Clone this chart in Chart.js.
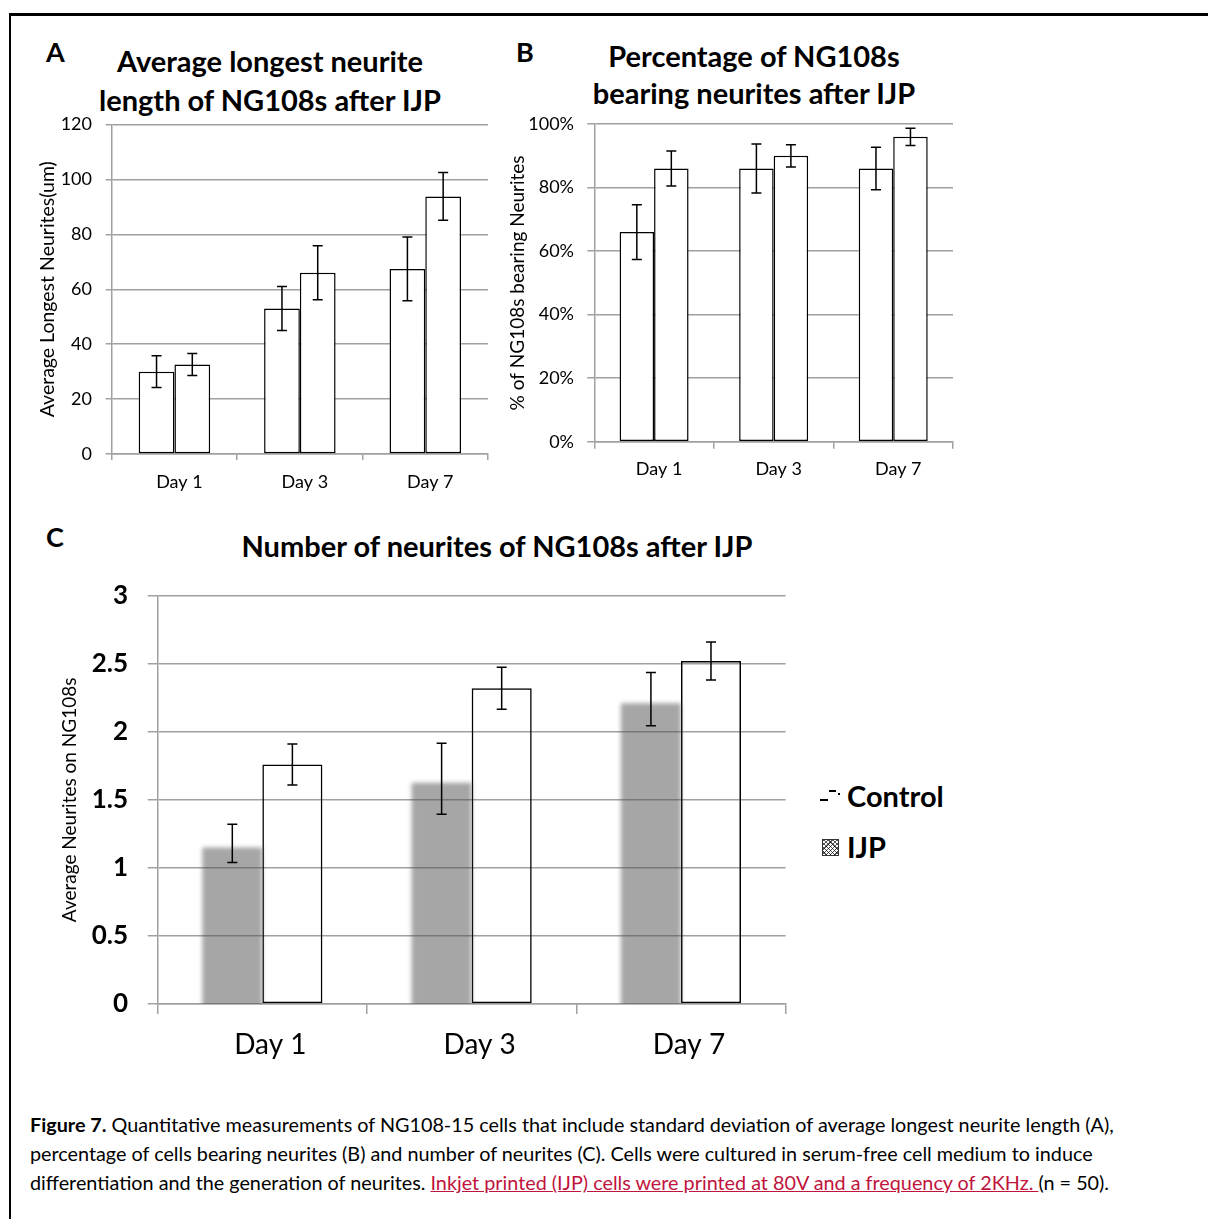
<!DOCTYPE html>
<html>
<head>
<meta charset="utf-8">
<script src="https://cdn.jsdelivr.net/npm/chart.js@4.4.0/dist/chart.umd.min.js"></script>
<style>
  body { margin: 0; background: #fff; font-family: Lato, "Noto Sans", sans-serif; color: #000; }
  #page { position: relative; width: 1208px; height: 1219px; overflow: hidden; }
  #frame { position: absolute; left: 9px; top: 13px; right: -10px; bottom: -10px;
           border-top: 3px solid #000; border-left: 2px solid #000; }
  .box { position: absolute; }
  .letter { position: absolute; font-weight: bold; font-size: 27px; line-height: 28px; }
  .title { position: absolute; font-weight: bold; font-size: 29px; text-align: center; white-space: nowrap; }
  #legend { position: absolute; left: 818px; top: 777px; font-weight: bold; font-size: 29px; }
  #legend div { position: relative; height: 51px; line-height: 38px; padding-left: 29px; }
  .dash1 { position: absolute; left: 2px; top: 22px; width: 8px; height: 2px; background: #000; }
  .dash2 { position: absolute; left: 11px; top: 13px; width: 7px; height: 2px; background: #000; }
  .dot { position: absolute; left: 20px; top: 16px; width: 2px; height: 2px; background: #000; }
  .hatch { position: absolute; left: 4px; top: 11px; width: 15px; height: 15px; border: 1px solid #333;
           background: repeating-linear-gradient(45deg, #fff 0 2px, #555 2px 3px),
                       repeating-linear-gradient(-45deg, #fff 0 2px, #555 2px 3px); background-blend-mode: multiply; }
  #caption { position: absolute; left: 30px; top: 1110px; font-size: 19.8px; line-height: 29px; white-space: nowrap; }
  #caption a { color: #c0143c; text-decoration: underline; }
</style>
</head>
<body>
<div id="page">
  <div id="frame"></div>

  <div class="letter" style="left:46px; top:38px;">A</div>
  <div class="title" style="left:60px; width:420px; top:41px; line-height:39px;">Average longest neurite<br>length of NG108s after IJP</div>
  <div class="box" style="left:0px; top:100px; width:500px; height:410px;"><canvas id="chartA"></canvas></div>

  <div class="letter" style="left:516px; top:38px;">B</div>
  <div class="title" style="left:554px; width:400px; top:37px; line-height:37px;">Percentage of NG108s<br>bearing neurites after IJP</div>
  <div class="box" style="left:500px; top:100px; width:470px; height:400px;"><canvas id="chartB"></canvas></div>

  <div class="letter" style="left:46px; top:523px;">C</div>
  <div class="title" style="left:197px; width:600px; top:527px; line-height:38px;">Number of neurites of NG108s after IJP</div>
  <div class="box" style="left:0px; top:560px; width:800px; height:520px;"><canvas id="chartC"></canvas></div>

  <div id="legend">
    <div><span class="dash1"></span><span class="dash2"></span><span class="dot"></span>Control</div>
    <div><span class="hatch"></span>IJP</div>
  </div>

  <div id="caption"><b>Figure 7.</b> Quantitative measurements of NG108-15 cells that include standard deviation of average longest neurite length (A),<br>percentage of cells bearing neurites (B) and number of neurites (C). Cells were cultured in serum-free cell medium to induce<br>differentiation and the generation of neurites. <a>Inkjet printed (IJP) cells were printed at 80V and a frequency of 2KHz. </a>(n = 50).</div>
</div>

<script>
// Data
const days = ['Day 1', 'Day 3', 'Day 7'];

const lengthControl = [30, 53, 67.4];
const lengthControlErr = [5.8, 8, 11.6];
const lengthIjp = [32.6, 66, 93.8];
const lengthIjpErr = [4, 9.8, 8.7];
const lengthTicks = [0, 20, 40, 60, 80, 100, 120];

const pctControl = [66, 86, 86];
const pctControlErr = [8.6, 7.7, 6.7];
const pctIjp = [86, 90, 96];
const pctIjpErr = [5.5, 3.5, 2.7];
const pctTicks = [0, 20, 40, 60, 80, 100];

const numControl = [1.18, 1.655, 2.24];
const numControlErr = [0.14, 0.26, 0.195];
const numIjp = [1.76, 2.32, 2.52];
const numIjpErr = [0.15, 0.155, 0.14];
const numTicks = [0, 0.5, 1, 1.5, 2, 2.5, 3];

const GRID = '#a0a0a0';

// error bars drawn from each dataset's err array
const errorBars = {
  id: 'errorBars',
  afterDatasetsDraw(chart) {
    const ctx = chart.ctx;
    const y = chart.scales.y;
    const cap = 5;
    ctx.save();
    ctx.strokeStyle = '#000';
    ctx.lineWidth = 1.5;
    chart.data.datasets.forEach((ds, i) => {
      chart.getDatasetMeta(i).data.forEach((bar, j) => {
        const hi = y.getPixelForValue(ds.data[j] + ds.err[j]);
        const lo = y.getPixelForValue(ds.data[j] - ds.err[j]);
        const x = bar.x;
        ctx.beginPath();
        ctx.moveTo(x, hi); ctx.lineTo(x, lo);
        ctx.moveTo(x - cap, hi); ctx.lineTo(x + cap, hi);
        ctx.moveTo(x - cap, lo); ctx.lineTo(x + cap, lo);
        ctx.stroke();
      });
    });
    ctx.restore();
  }
};

// panel C control series is only a soft shadow, dropped a few px below the bar
const shadowBars = {
  id: 'shadowBars',
  beforeDatasetDraw(chart, args) {
    if (args.index !== 0) return;
    const ctx = chart.ctx, a = chart.chartArea;
    ctx.save();
    ctx.beginPath();
    ctx.rect(a.left, a.top, a.right - a.left, a.bottom - a.top);
    ctx.clip();
    ctx.translate(0, 4);
    ctx.filter = 'blur(2px)';
  },
  afterDatasetDraw(chart, args) {
    if (args.index === 0) chart.ctx.restore();
  }
};

function barChart(id, o) {
  return new Chart(document.getElementById(id), {
    type: 'bar',
    data: {
      labels: days,
      datasets: o.datasets
    },
    options: {
      responsive: true,
      maintainAspectRatio: false,
      animation: false,
      layout: { padding: o.padding },
      plugins: { legend: { display: false }, tooltip: { enabled: false } },
      datasets: { bar: { barPercentage: 1, categoryPercentage: o.catPct } },
      scales: {
        x: {
          afterFit: s => { s.height = o.xHeight; },
          grid: { display: true, drawOnChartArea: false, drawTicks: true, tickLength: o.xTick, color: GRID, lineWidth: 1.5 },
          border: { color: GRID, width: 1.5 },
          ticks: { color: '#000', padding: o.xPad, labelOffset: o.xShift, font: o.xFont }
        },
        y: {
          min: o.ticks[0],
          max: o.ticks[o.ticks.length - 1],
          afterFit: s => { s.width = o.yWidth; },
          afterBuildTicks: s => { s.ticks = o.ticks.map(v => ({ value: v })); },
          grid: { color: GRID, lineWidth: 1.5, tickLength: o.yTick },
          border: { color: GRID, width: 1.5 },
          ticks: { color: '#000', padding: o.yPad, font: o.yFont, callback: o.fmt },
          title: { display: true, text: o.yTitle, color: '#000', font: { family: 'Lato', size: o.titleSize }, padding: { top: o.titlePad, bottom: 0 } }
        }
      }
    },
    plugins: o.plugins
  });
}

const whiteBar = (data, err) => ({
  data: data, err: err,
  backgroundColor: '#fff', borderColor: '#000', borderWidth: 1.5, borderSkipped: false
});

barChart('chartA', {
  datasets: [whiteBar(lengthControl, lengthControlErr), whiteBar(lengthIjp, lengthIjpErr)],
  padding: { top: 16.7, left: 0, right: 12, bottom: 0 },
  catPct: 0.57, xHeight: 56, yWidth: 111.7, xTick: 6, yTick: 6, xPad: 11.2, yPad: 13.7, xShift: 5,
  xFont: { family: 'Lato', size: 18 }, yFont: { family: 'Lato', size: 18 },
  ticks: lengthTicks, fmt: v => v, yTitle: 'Average Longest Neurites(um)', titleSize: 19.5, titlePad: 36.3,
  plugins: [errorBars]
});

barChart('chartB', {
  datasets: [whiteBar(pctControl, pctControlErr), whiteBar(pctIjp, pctIjpErr)],
  padding: { top: 19.3, left: 0, right: 17, bottom: 0 },
  catPct: 0.577, xHeight: 58.3, yWidth: 94.3, xTick: 7, yTick: 7, xPad: 9.5, yPad: 13.3, xShift: 5,
  xFont: { family: 'Lato', size: 18 }, yFont: { family: 'Lato', size: 18 },
  ticks: pctTicks, fmt: v => v + '%', yTitle: '% of NG108s bearing Neurites', titleSize: 19, titlePad: 6.6,
  plugins: [errorBars]
});

barChart('chartC', {
  datasets: [
    { data: numControl, err: numControlErr, backgroundColor: 'rgba(77,77,77,0.5)', borderWidth: 0 },
    { data: numIjp, err: numIjpErr, backgroundColor: 'rgba(255,255,255,0)', borderColor: '#000', borderWidth: 1.5, borderSkipped: false }
  ],
  padding: { top: 35.7, left: 0, right: 14.4, bottom: 0 },
  catPct: 0.574, xHeight: 76, yWidth: 157.7, xTick: 10, yTick: 10, xPad: 14.2, yPad: 19.7, xShift: 8,
  xFont: { family: 'Lato', size: 28 }, yFont: { family: 'Lato', size: 26, weight: 'bold' },
  ticks: numTicks, fmt: v => v, yTitle: 'Average Neurites on NG108s', titleSize: 19, titlePad: 58.6,
  plugins: [shadowBars, errorBars]
});
</script>
</body>
</html>
